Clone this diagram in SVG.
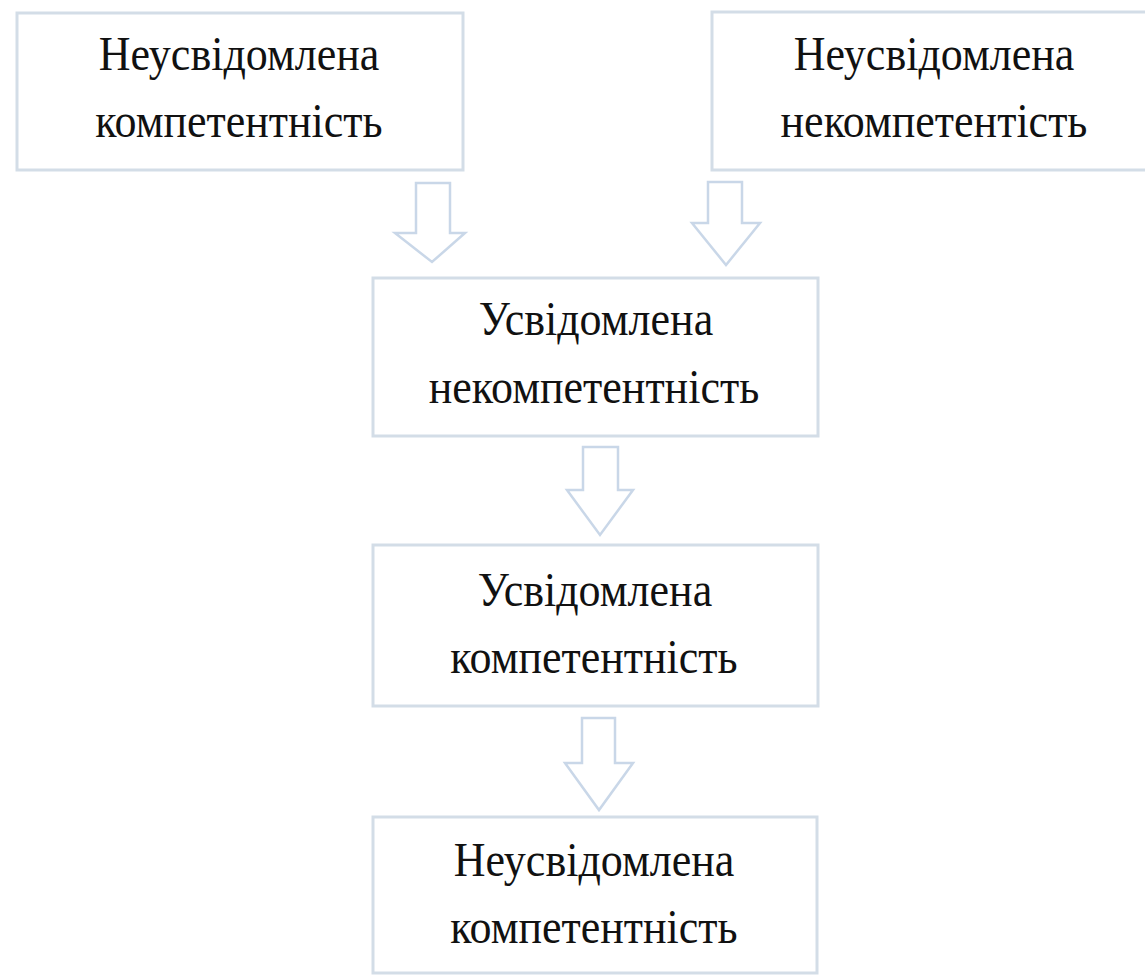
<svg xmlns="http://www.w3.org/2000/svg" width="1145" height="976" viewBox="0 0 1145 976">
<style>
.box{fill:#ffffff;stroke:#d3dde7;stroke-width:3}
.arr{fill:#ffffff;stroke:#c9d7e8;stroke-width:2.5;stroke-linejoin:miter}
.t{font-family:"Liberation Serif","Times New Roman",serif;font-size:44px;fill:#111111;text-anchor:middle}
</style>
<rect width="1145" height="976" fill="#ffffff"/>
<g id="connectors">
<polygon class="arr" points="416,183 450,183 450,233 465,233 432,262 395,233 416,233"/>
<polygon class="arr" points="708,182 742,182 742,223 760,223 726,265 692,223 708,223"/>
<polygon class="arr" points="583,447 618,447 618,490 633,490 600,535 567,490 583,490"/>
<polygon class="arr" points="582,718 615,718 615,763 633,763 599,810 565,763 582,763"/>
</g>
<g id="node1">
<rect class="box" x="17" y="13" width="446" height="157"/>
<text class="t" transform="translate(239,70) scale(1,1.1)">Неусвідомлена</text>
<text class="t" transform="translate(239,137) scale(1,1.1)">компетентність</text>
</g>
<g id="node2">
<rect class="box" x="712" y="12" width="440" height="158"/>
<text class="t" transform="translate(934,70) scale(1,1.1)">Неусвідомлена</text>
<text class="t" transform="translate(934,137) scale(1,1.1)">некомпетентість</text>
</g>
<g id="node3">
<rect class="box" x="373" y="278" width="445" height="158"/>
<text class="t" transform="translate(596,335) scale(1,1.1)">Усвідомлена</text>
<text class="t" transform="translate(594,403) scale(1,1.1)">некомпетентність</text>
</g>
<g id="node4">
<rect class="box" x="373" y="545" width="445" height="161"/>
<text class="t" transform="translate(595,606) scale(1,1.1)">Усвідомлена</text>
<text class="t" transform="translate(594,673) scale(1,1.1)">компетентність</text>
</g>
<g id="node5">
<rect class="box" x="373" y="817" width="444" height="156"/>
<text class="t" transform="translate(594,876) scale(1,1.1)">Неусвідомлена</text>
<text class="t" transform="translate(594,943) scale(1,1.1)">компетентність</text>
</g>
</svg>
